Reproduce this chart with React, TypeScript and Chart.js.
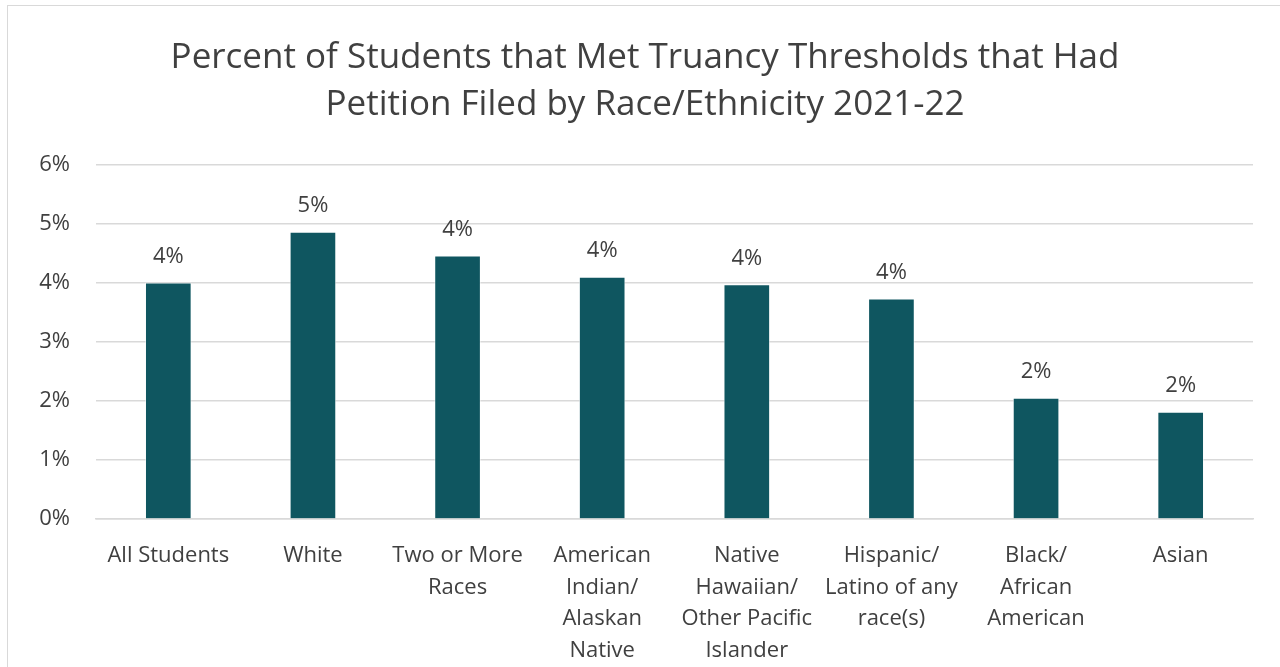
import React, { useEffect, useRef } from "react";
import { Chart, registerables } from "chart.js";

Chart.register(...registerables);

const categories: (string | string[])[] = [
  "All Students",
  "White",
  ["Two or More", "Races"],
  ["American", "Indian/", "Alaskan", "Native"],
  ["Native", "Hawaiian/", "Other Pacific", "Islander"],
  ["Hispanic/", "Latino of any", "race(s)"],
  ["Black/", "African", "American"],
  "Asian",
];

const petitionPercent: number[] = [4.0, 4.86, 4.46, 4.1, 3.97, 3.73, 2.05, 1.81];

const titleLines: string[] = [
  "Percent of Students that Met Truancy Thresholds that Had",
  "Petition Filed by Race/Ethnicity 2021-22",
];

const FONT = "'Open Sans', 'Noto Sans', sans-serif";
const TEXT = "#404040";
const GRID = "#d9d9d9";
const BAR = "#0f5660";

const valueLabels = {
  id: "valueLabels",
  afterDatasetsDraw(chart: any) {
    const ctx = chart.ctx;
    const meta = chart.getDatasetMeta(0);
    const data = chart.data.datasets[0].data as number[];
    ctx.save();
    ctx.font = `22px ${FONT}`;
    ctx.fillStyle = TEXT;
    ctx.textAlign = "center";
    ctx.textBaseline = "middle";
    meta.data.forEach((bar: any, i: number) => {
      ctx.fillText(Math.round(data[i]) + "%", bar.x, bar.y - 26);
    });
    ctx.restore();
  },
};

export default function App() {
  const canvasRef = useRef<HTMLCanvasElement | null>(null);

  useEffect(() => {
    if (!canvasRef.current) return;
    const chart = new Chart(canvasRef.current, {
      type: "bar",
      data: {
        labels: categories,
        datasets: [
          {
            data: petitionPercent,
            backgroundColor: BAR,
            borderColor: "rgba(255,255,255,0.5)",
            borderWidth: 1,
            barThickness: 46,
          },
        ],
      },
      options: {
        animation: false,
        responsive: true,
        maintainAspectRatio: false,
        layout: { padding: { left: 37, right: 27, top: 0, bottom: 0 } },
        plugins: {
          legend: { display: false },
          tooltip: { enabled: false },
          title: {
            display: true,
            text: titleLines,
            color: TEXT,
            font: { family: FONT, size: 35, weight: "normal" as any, lineHeight: 1.34 },
            padding: { top: 35, bottom: 36 },
          },
        },
        scales: {
          x: {
            grid: { display: false, drawTicks: false },
            border: { display: true, color: GRID, width: 1.5 },
            ticks: {
              color: TEXT,
              font: { family: FONT, size: 22, lineHeight: 1.44 },
              padding: 21,
              maxRotation: 0,
              autoSkip: false,
            },
            afterFit(scale: any) {
              scale.height = 148;
            },
          },
          y: {
            min: 0,
            max: 6,
            grid: { color: GRID, lineWidth: 1.5, drawTicks: false },
            border: { display: false },
            ticks: {
              stepSize: 1,
              color: TEXT,
              font: { family: FONT, size: 22 },
              padding: 26,
              callback: (v: any) => v + "%",
            },
            afterFit(scale: any) {
              scale.width = 59;
            },
          },
        },
      },
      plugins: [valueLabels],
    });
    return () => chart.destroy();
  }, []);

  return (
    <div
      style={{
        position: "fixed",
        left: 0,
        top: 0,
        width: 1280,
        height: 667,
        overflow: "hidden",
        background: "#fff",
      }}
    >
      <div
        style={{
          position: "absolute",
          left: 7,
          top: 5,
          width: 1300,
          height: 700,
          border: "1.5px solid #d9d9d9",
        }}
      />
      <div style={{ position: "absolute", left: 0, top: 0, width: 1280, height: 667 }}>
        <canvas ref={canvasRef} />
      </div>
    </div>
  );
}
